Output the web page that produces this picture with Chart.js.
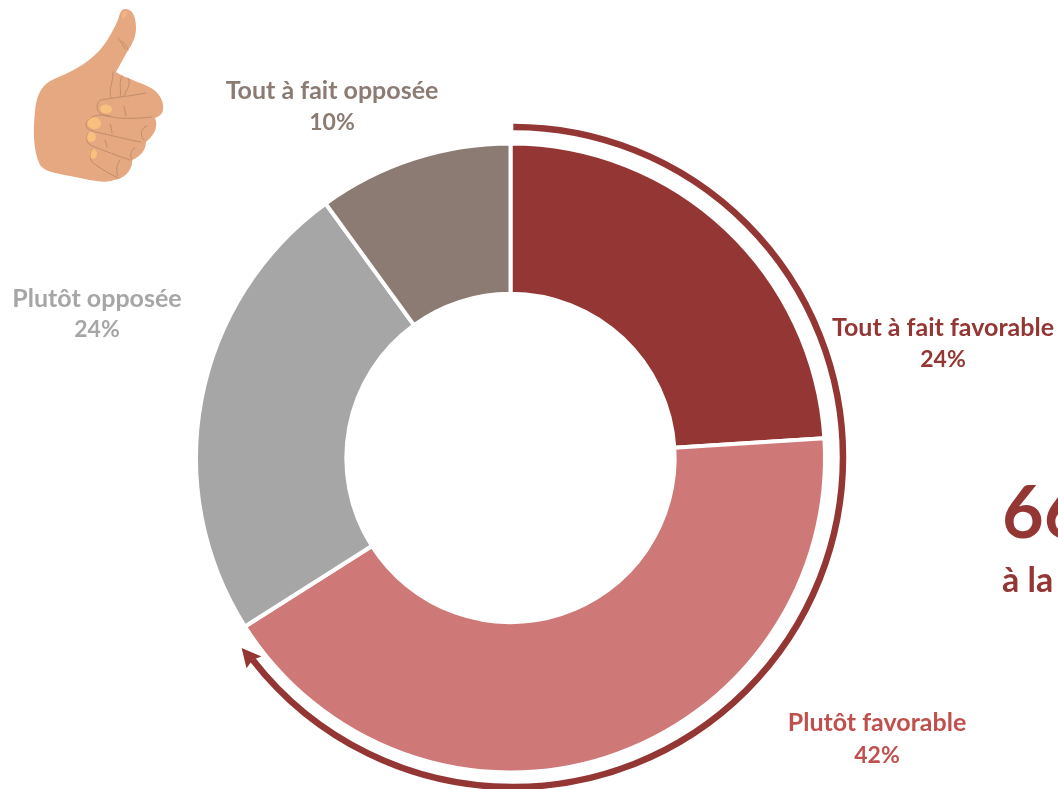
<!DOCTYPE html>
<html lang="fr">
<head>
<meta charset="utf-8">
<style>
html,body{margin:0;padding:0;background:#fff;width:1058px;height:789px;overflow:hidden}
#wrap{position:relative;width:1058px;height:789px}
canvas{position:absolute;left:0;top:0}
svg{position:absolute;left:0;top:0}
</style>
<script src="https://cdn.jsdelivr.net/npm/chart.js@4"></script>
</head>
<body>
<div id="wrap">
<canvas id="c" width="1058" height="789"></canvas>
<svg width="200" height="200" viewBox="0 0 200 200" aria-hidden="true">
<path fill="#E5A880" d="M125 9C133 9 136 17 136 28C136 38 131 46 127 52L116 72C125 78 140 82 151 88C160 93 164 102 163 110C162 115 158 117 155 118C158 125 156 134 146 142C146 150 140 157 132 160C133 170 124 179 114 180C105 184 90 180 70 176C55 173 45 172 40 165C33 150 33 130 35 112C36 98 40 86 52 80C70 72 85 66 100 50C110 38 114 28 118 20C120 13 121 9 125 9Z"/>
<path fill="#F2B480" d="M122 18C122 13 124 10 127 11C127 15 125 19 122 18Z"/>
<g fill="#F9BF7F">
<ellipse cx="106" cy="109" rx="6" ry="4.5" transform="rotate(10 106 109)"/>
<ellipse cx="94" cy="123" rx="7" ry="6" transform="rotate(15 94 123)"/>
<ellipse cx="91" cy="137" rx="5" ry="5"/>
<ellipse cx="93" cy="154" rx="4" ry="5"/>
</g>
<g fill="none" stroke="#A87B5C" stroke-width="0.8" stroke-linecap="round" opacity="0.75">
<path d="M146 93C130 96 112 98 101 100C96 102 96 110 100 113C104 117 110 116 118 118C130 119 142 118 152 117"/>
<path d="M110 116C100 113 88 116 86 124C86 130 92 131 100 133C115 136 128 140 141 142"/>
<path d="M88 133C85 138 87 144 92 146C105 151 118 156 130 160"/>
<path d="M92 149C88 155 90 162 96 165C103 170 110 174 118 178"/>
<path d="M113 72C113 84 108 90 111 98M122 76C118 84 122 90 120 97M128 78C132 84 126 90 124 96"/>
<path d="M122 41C125 44 127 47 128 50M118 38C121 42 123 45 125 49"/>
<path d="M147 126C140 128 140 136 144 140M135 148C130 150 130 156 132 160M120 160C116 165 116 172 118 176"/>
<path d="M124 106C125 110 125 113 126 116M110 124C111 127 112 130 112 133M105 140C106 143 107 145 107 147"/>
</g>
</svg>
</div>
<script>
const categories = ["Tout à fait favorable", "Plutôt favorable", "Plutôt opposée", "Tout à fait opposée"];
const values = [24, 42, 24, 10];
const valueLabels = ["24%", "42%", "24%", "10%"];
const sliceColors = ["#943634", "#CF7878", "#A6A6A6", "#8B7B73"];
const labelColors = ["#943634", "#C0504D", "#A6A6A6", "#8B7B73"];
const labelCentres = [[943, 328, 360], [877, 723, 756], [97, 299, 330], [332, 91, 123]];
const callout = {big: "66%", small: "à la", color: "#943634", x: 1002};
const FONT = 'Lato, "Open Sans", sans-serif';

const overlay = {
  id: "overlay",
  afterDraw(chart) {
    const ctx = chart.ctx;
    ctx.save();
    // surrounding arrow
    const cx = 513, cy = 457, r = 330;
    const start = -Math.PI / 2 + 0.001;
    const end = -Math.PI / 2 + 232.1 * Math.PI / 180;
    ctx.strokeStyle = "#943634";
    ctx.lineWidth = 6.5;
    ctx.beginPath();
    ctx.arc(cx, cy, r, start, end, false);
    ctx.stroke();
    const px = cx + r * Math.cos(end), py = cy + r * Math.sin(end);
    const tx = -Math.sin(end), ty = Math.cos(end);
    const nx = Math.cos(end), ny = Math.sin(end);
    ctx.fillStyle = "#943634";
    ctx.beginPath();
    ctx.moveTo(px + 16 * tx + 1.5 * nx, py + 16 * ty + 1.5 * ny);
    ctx.lineTo(px - 3 * tx + 10 * nx, py - 3 * ty + 10 * ny);
    ctx.lineTo(px, py);
    ctx.lineTo(px - 3 * tx - 9 * nx, py - 3 * ty - 9 * ny);
    ctx.closePath();
    ctx.fill();
    // labels
    ctx.textAlign = "center";
    ctx.textBaseline = "middle";
    categories.forEach((name, i) => {
      ctx.fillStyle = labelColors[i];
      ctx.font = 'bold 25px ' + FONT;
      ctx.fillText(name, labelCentres[i][0], labelCentres[i][1]);
      ctx.font = 'bold 23px ' + FONT;
      ctx.fillText(valueLabels[i], labelCentres[i][0], labelCentres[i][2]);
    });
    // clipped callout
    ctx.textAlign = "left";
    ctx.fillStyle = callout.color;
    ctx.font = 'bold 72px ' + FONT;
    ctx.fillText(callout.big, callout.x, 515);
    ctx.font = 'bold 34px ' + FONT;
    ctx.fillText(callout.small, callout.x, 581);
    ctx.restore();
  }
};

new Chart(document.getElementById("c"), {
  type: "doughnut",
  data: {
    labels: categories,
    datasets: [{
      data: values,
      backgroundColor: sliceColors,
      borderColor: "#ffffff",
      borderWidth: 4,
      hoverOffset: 0
    }]
  },
  options: {
    responsive: false,
    animation: false,
    cutout: "52.2%",
    layout: {padding: {left: 194, right: 231, top: 141, bottom: 14}},
    plugins: {legend: {display: false}, tooltip: {enabled: false}}
  },
  plugins: [overlay]
});
</script>
</body>
</html>
